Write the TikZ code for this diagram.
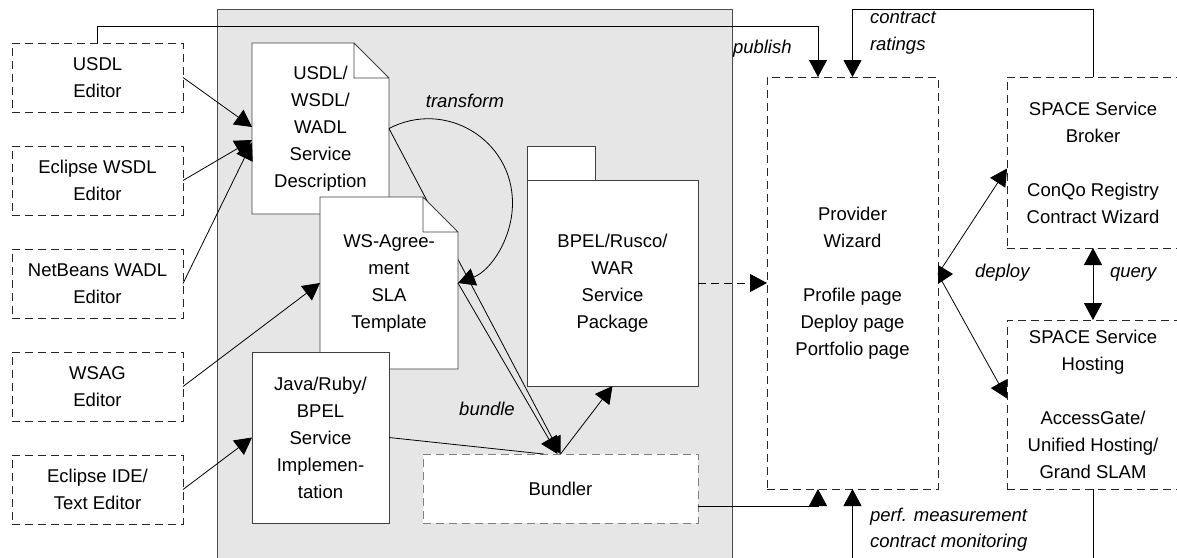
\documentclass[tikz,border=0pt]{standalone}
\usepackage{fontspec}
\setmainfont{Liberation Sans}
\usetikzlibrary{arrows.meta}
\definecolor{panelgray}{HTML}{E6E6E6}
\makeatletter
\pgfdeclareshape{dogear}{
  \inheritsavedanchors[from=rectangle]
  \inheritanchorborder[from=rectangle]
  \inheritanchor[from=rectangle]{center}
  \inheritanchor[from=rectangle]{north}
  \inheritanchor[from=rectangle]{south}
  \inheritanchor[from=rectangle]{east}
  \inheritanchor[from=rectangle]{west}
  \inheritanchor[from=rectangle]{north east}
  \inheritanchor[from=rectangle]{north west}
  \inheritanchor[from=rectangle]{south east}
  \inheritanchor[from=rectangle]{south west}
  \inheritanchor[from=rectangle]{mid}
  \inheritanchor[from=rectangle]{base}
  \backgroundpath{
    \southwest \pgf@xa=\pgf@x \pgf@ya=\pgf@y
    \northeast \pgf@xb=\pgf@x \pgf@yb=\pgf@y
    \pgf@xc=\pgf@xb \advance\pgf@xc by-35pt
    \pgf@yc=\pgf@yb \advance\pgf@yc by-35pt
    \pgfpathmoveto{\pgfpoint{\pgf@xa}{\pgf@ya}}
    \pgfpathlineto{\pgfpoint{\pgf@xa}{\pgf@yb}}
    \pgfpathlineto{\pgfpoint{\pgf@xc}{\pgf@yb}}
    \pgfpathlineto{\pgfpoint{\pgf@xb}{\pgf@yc}}
    \pgfpathlineto{\pgfpoint{\pgf@xb}{\pgf@ya}}
    \pgfpathclose
    \pgfpathmoveto{\pgfpoint{\pgf@xc}{\pgf@yb}}
    \pgfpathlineto{\pgfpoint{\pgf@xc}{\pgf@yc}}
    \pgfpathlineto{\pgfpoint{\pgf@xb}{\pgf@yc}}
    \pgfpathlineto{\pgfpoint{\pgf@xc}{\pgf@yc}}
  }
}
\makeatother
\begin{document}
\begin{tikzpicture}[x=1pt,y=-1pt,
  every node/.style={inner sep=0pt, outer sep=0pt, align=center, font=\fontsize{18.5}{27}\selectfont},
  ed/.style={draw=black!85, dash pattern=on 8pt off 5pt, line width=0.8pt, minimum width=171pt, minimum height=69pt, anchor=north west},
  doc/.style={shape=dogear, draw=black!75, fill=white, line width=0.8pt, anchor=north west},
  sbox/.style={draw=black!75, fill=white, line width=0.8pt, anchor=north west},
  dbox/.style={draw=black!85, fill=white, dash pattern=on 8pt off 5pt, line width=0.8pt, anchor=north west},
  conn/.style={line width=0.8pt},
  arr/.style={conn, -{Triangle[length=17pt,width=18pt]}},
  dbl/.style={conn, {Triangle[length=17pt,width=18pt]}-{Triangle[length=17pt,width=18pt]}},
  lab/.style={font=\fontsize{18.5}{27}\selectfont\itshape}
]
\useasboundingbox (0,0) rectangle (1177,557);
\clip (0,0) rectangle (1177,557);

% grey panel
\filldraw[fill=panelgray, draw=black!70, line width=0.8pt] (217,9) rectangle (732,620);

% editors
\node[ed] (usdled)  at (12,43)  {USDL\\Editor};
\node[ed] (wsdled)  at (12,146) {Eclipse WSDL\\Editor};
\node[ed] (wadled)  at (12,249) {NetBeans WADL\\Editor};
\node[ed] (wsaged)  at (12,352) {WSAG\\Editor};
\node[ed] (ideed)   at (12,455) {Eclipse IDE/\\Text Editor};

% bundler
\node[dbox, draw=black!50, minimum width=275pt, minimum height=69pt] (bundler) at (423,454) {Bundler};

% service description document
\node[doc, minimum width=137pt, minimum height=171pt] (usdl) at (252,43) {USDL/\\WSDL/\\WADL\\Service\\Description};
\draw[arr] (usdl.east) -- (bundler.north);

% SLA template document
\node[doc, minimum width=138pt, minimum height=172pt] (ws) at (320,197) {WS-Agree-\\ment\\SLA\\Template};

% implementation
\node[sbox, minimum width=137pt, minimum height=171pt] (java) at (252,352) {Java/Ruby/\\BPEL\\Service\\Implemen-\\tation};

% package
\node[sbox, minimum width=171pt, minimum height=206pt] (package) at (527,180) {BPEL/Rusco/\\WAR\\Service\\Package};
\filldraw[fill=white, draw=black!75, line width=0.8pt] (package.north west) rectangle ++(68,-34);

% right side
\node[dbox, minimum width=171pt, minimum height=412pt] (provider) at (767,77) {Provider\\Wizard\\[27pt]Profile page\\Deploy page\\Portfolio page};
\node[dbox, minimum width=172pt, minimum height=171pt] (broker) at (1007,77) {SPACE Service\\Broker\\[27pt]ConQo Registry\\Contract Wizard};
\node[dbox, minimum width=172pt, minimum height=169pt] (hosting) at (1007,320) {SPACE Service\\Hosting\\[27pt]AccessGate/\\Unified Hosting/\\Grand SLAM};

% editor arrows
\draw[arr] (usdled.east) -- ([yshift=1.5pt]usdl.west);
\draw[arr] (wsdled.east) -- ([yshift=-11.5pt]usdl.west);
\draw[arr] (wadled.east) -- ([yshift=-14pt]usdl.west);
\draw[arr] (wsaged.east) -- (ws.west);
\draw[arr] (ideed.east) -- (java.west);

% transform
\draw[arr] (usdl.east) .. controls (445.3,99.1) and (512.5,139.5) .. (512.5,203)
           .. controls (512.5,238.2) and (490.9,270.6) .. (ws.east);

% bundle
\draw[arr] (ws.east) -- ([xshift=-3pt]bundler.north);
\draw[conn] (java.east) -- ([xshift=-17pt]bundler.north);
\draw[arr] (bundler.north) -- (package.south);

% package to provider
\draw[arr, dash pattern=on 8pt off 5pt] (package.east) -- (provider.west);

% bundler to provider
\draw[arr] ([yshift=-17.5pt]bundler.east) -| ([xshift=-34.5pt]provider.south);

% publish
\draw[arr] (usdled.north) -- ++(0,-17) -| ([xshift=-34.5pt]provider.north);

% contract ratings
\draw[arr] (broker.north) -- ++(0,-68) -| (provider.north);

% monitoring
\draw[arr] (hosting.south) -- ++(0,120) -| (provider.south);

% deploy
\coordinate (dj) at ([yshift=9pt]provider.east);
\draw[arr] (dj) -- ([yshift=-6pt]broker.west);
\draw[arr] (dj) -- ([yshift=6pt]hosting.west);
\fill (dj) ++(0,-9) -- ++(15,9) -- ++(-15,10) -- cycle;

% query
\draw[dbl] (broker.south) -- (hosting.north);

% labels
\node[lab, anchor=base west] (lpublish) at (733,53) {publish};
\node[lab, anchor=base west] (lcontract) at (870,23) {contract};
\node[lab, anchor=base west] (lratings) at (870,50) {ratings};
\node[lab, anchor=base] (ltransform) at (465,107) {transform};
\node[lab, anchor=base] (lbundle) at (487,415) {bundle};
\node[lab, anchor=base west] (ldeploy) at (975,277) {deploy};
\node[lab, anchor=base west] (lquery) at (1110,277) {query};
\node[lab, anchor=base west] (lperf) at (870,521) {perf. measurement};
\node[lab, anchor=base west] (lmon) at (870,547) {contract monitoring};
\end{tikzpicture}
\end{document}
